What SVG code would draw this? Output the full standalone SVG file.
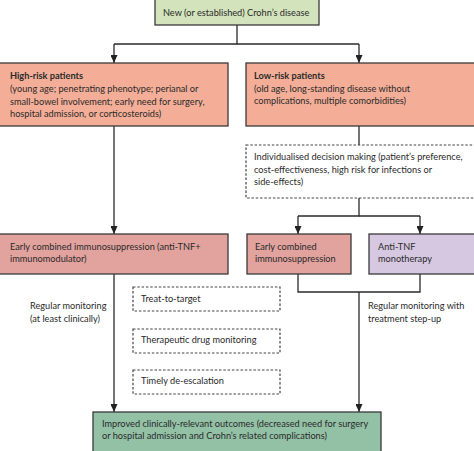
<svg xmlns="http://www.w3.org/2000/svg" width="474" height="451" viewBox="0 0 474 451">
<defs>
<marker id="ah" viewBox="0 0 8 7" refX="8" refY="3.5" markerWidth="8" markerHeight="7" orient="auto" markerUnits="userSpaceOnUse">
<path d="M0,0 L8,3.5 L0,7 Z" fill="#222"/>
</marker>
<style>
text{font-family:Lato,"Liberation Sans",sans-serif;font-size:9.2px;fill:#2a2a2a}
.b{font-weight:bold}
.box{stroke:#3a3a3a;stroke-width:1.3}
.dash{fill:#fff;stroke:#444;stroke-width:1.2;stroke-dasharray:2.5 1.8}
.ln{fill:none;stroke:#2a2a2a;stroke-width:1.3}
</style>
</defs>
<g id="connectors">
<path class="ln" d="M237,25 V44 H114"/>
<path class="ln" d="M237,44 H359"/>
<path class="ln" d="M114,44 V63" marker-end="url(#ah)"/>
<path class="ln" d="M359,44 V63" marker-end="url(#ah)"/>
<path class="ln" d="M114,126 V234" marker-end="url(#ah)"/>
<path class="ln" d="M359,126 V145"/>
<path class="ln" d="M359,198 V216 H298"/>
<path class="ln" d="M359,216 H420"/>
<path class="ln" d="M298,216 V234" marker-end="url(#ah)"/>
<path class="ln" d="M420,216 V234" marker-end="url(#ah)"/>
<path class="ln" d="M298,274 V292 H420 V274"/>
<path class="ln" d="M359,292 V412" marker-end="url(#ah)"/>
<path class="ln" d="M114,274 V412" marker-end="url(#ah)"/>
</g>
<g id="n-top">
<rect class="box" x="155" y="-1" width="164" height="26" fill="#d3e3bc"/>
<text x="163" y="16">New (or established) Crohn’s disease</text>
</g>
<g id="n-high">
<rect class="box" x="-1" y="63" width="229" height="63" fill="#f4ae97"/>
<text x="10" y="79" class="b">High-risk patients</text>
<text x="10" y="92">(young age; penetrating phenotype; perianal or</text>
<text x="10" y="105">small-bowel involvement; early need for surgery,</text>
<text x="10" y="117">hospital admission, or corticosteroids)</text>
</g>
<g id="n-low">
<rect class="box" x="246" y="63" width="229" height="63" fill="#f4ae97"/>
<text x="254" y="79" class="b">Low-risk patients</text>
<text x="254" y="92">(old age, long-standing disease without</text>
<text x="254" y="104">complications, multiple comorbidities)</text>
</g>
<g id="n-indiv">
<rect class="dash" x="246" y="145" width="229" height="53"/>
<text x="254" y="160">Individualised decision making (patient’s preference,</text>
<text x="254" y="173">cost-effectiveness, high risk for infections or</text>
<text x="254" y="185">side-effects)</text>
</g>
<g id="n-combo-left">
<rect class="box" x="-1" y="234" width="229" height="40" fill="#e2a29e"/>
<text x="10" y="250">Early combined immunosuppression (anti-TNF+</text>
<text x="10" y="262">immunomodulator)</text>
</g>
<g id="n-combo-mid">
<rect class="box" x="247" y="234" width="104" height="40" fill="#e2a29e"/>
<text x="255" y="250">Early combined</text>
<text x="255" y="262">immunosuppression</text>
</g>
<g id="n-antitnf">
<rect class="box" x="369" y="234" width="106" height="40" fill="#d6c8e1"/>
<text x="378" y="250">Anti-TNF</text>
<text x="378" y="262">monotherapy</text>
</g>
<g id="lbl-left">
<text x="30" y="309">Regular monitoring</text>
<text x="30" y="322">(at least clinically)</text>
</g>
<g id="lbl-right">
<text x="368" y="309">Regular monitoring with</text>
<text x="368" y="322">treatment step-up</text>
</g>
<g id="n-t2t">
<rect class="dash" x="133" y="287" width="147" height="24"/>
<text x="141" y="302">Treat-to-target</text>
</g>
<g id="n-tdm">
<rect class="dash" x="133" y="329" width="147" height="24"/>
<text x="141" y="343">Therapeutic drug monitoring</text>
</g>
<g id="n-deesc">
<rect class="dash" x="133" y="370" width="147" height="24"/>
<text x="141" y="384">Timely de-escalation</text>
</g>
<g id="n-outcome">
<rect class="box" x="93" y="412" width="288" height="42" fill="#93c1a6"/>
<text x="102" y="427">Improved clinically-relevant outcomes (decreased need for surgery</text>
<text x="102" y="439">or hospital admission and Crohn’s related complications)</text>
</g>
</svg>
